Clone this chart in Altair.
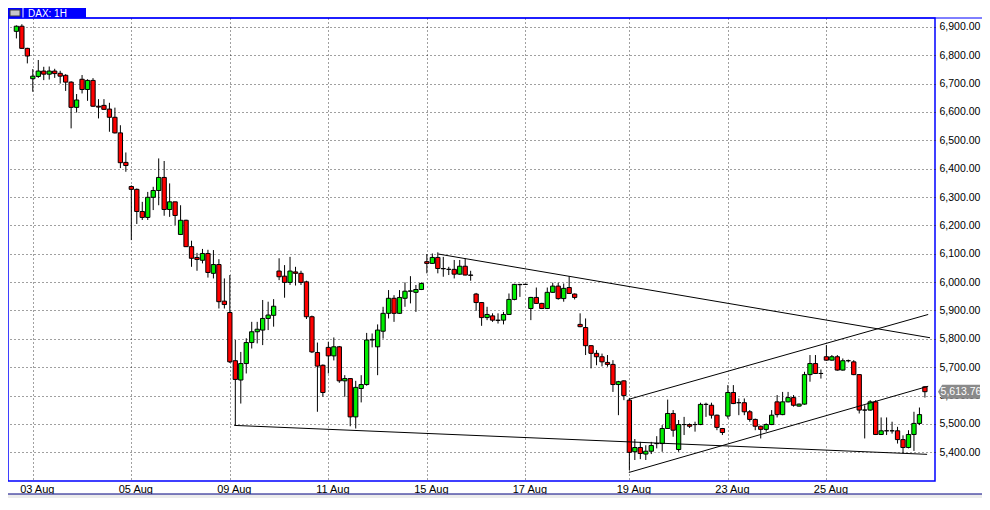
import altair as alt
import pandas as pd

# ---------------- data ----------------
open_ = [6884, 6902, 6824, 6717, 6725, 6744, 6733, 6744, 6736, 6729,
         6705, 6616, 6715, 6679, 6711, 6620, 6623, 6610, 6581, 6526,
         6422, 6337, 6327, 6249, 6228, 6299, 6323, 6369, 6256, 6283,
         6168, 6218, 6125, 6087, 6077, 6101, 6031, 6062, 5933, 5893,
         5723, 5655, 5713, 5787, 5825, 5831, 5872, 5883, 6039, 6021,
         5999, 6036, 6031, 6001, 5878, 5752, 5707, 5770, 5740, 5772,
         5652, 5660, 5525, 5625, 5639, 5796, 5772, 5827, 5890, 5943,
         5890, 5943, 5968, 5964, 5974, 6072, 6066, 6087, 6048, 6045,
         6045, 6028, 6056, 6025, 5958, 5928, 5875, 5881, 5866, 5866,
         5886, 5939, 5992, 5992, 5907, 5946, 5925, 5907, 5964, 5986,
         5942, 5981, 5958, 5851, 5840, 5776, 5749, 5737, 5717, 5710,
         5639, 5652, 5584, 5402, 5417, 5394, 5404, 5431, 5431, 5484,
         5537, 5410, 5498, 5498, 5498, 5498, 5569, 5566, 5531, 5484,
         5528, 5611, 5575, 5575, 5543, 5516, 5492, 5481, 5498, 5578,
         5533, 5578, 5593, 5563, 5570, 5674, 5713, 5678, 5737, 5725,
         5737, 5690, 5723, 5719, 5674, 5549, 5549, 5578, 5463, 5476,
         5476, 5476, 5445, 5417, 5463, 5502, 5631]

high = [6905, 6909, 6826, 6751, 6783, 6759, 6760, 6752, 6745, 6733,
        6708, 6663, 6730, 6715, 6719, 6645, 6645, 6632, 6615, 6553,
        6457, 6341, 6330, 6283, 6318, 6336, 6436, 6427, 6348, 6283,
        6271, 6220, 6146, 6103, 6117, 6114, 6113, 6081, 6013, 6025,
        5796, 5754, 5802, 5860, 5860, 5937, 5931, 5940, 6084, 6060,
        6089, 6054, 6040, 6005, 5882, 5787, 5710, 5790, 5805, 5775,
        5672, 5662, 5652, 5672, 5821, 5819, 5851, 5913, 5972, 5954,
        5972, 5999, 6021, 5990, 5999, 6099, 6101, 6105, 6089, 6054,
        6078, 6078, 6083, 6040, 5962, 5930, 5913, 5890, 5890, 5895,
        5960, 5994, 5994, 5994, 5948, 5981, 5927, 5981, 5998, 5998,
        5995, 6021, 5960, 5890, 5872, 5778, 5760, 5748, 5743, 5725,
        5652, 5654, 5592, 5447, 5437, 5425, 5437, 5457, 5496, 5586,
        5549, 5514, 5525, 5502, 5508, 5575, 5575, 5575, 5533, 5486,
        5637, 5637, 5590, 5590, 5549, 5519, 5494, 5502, 5549, 5602,
        5613, 5613, 5602, 5572, 5684, 5743, 5743, 5692, 5778, 5743,
        5743, 5731, 5727, 5725, 5676, 5566, 5584, 5584, 5523, 5523,
        5508, 5490, 5460, 5478, 5543, 5558, 5633]

low = [6859, 6822, 6771, 6671, 6720, 6712, 6714, 6720, 6700, 6674,
       6542, 6598, 6665, 6639, 6618, 6577, 6608, 6530, 6524, 6402,
       6389, 6148, 6205, 6219, 6219, 6254, 6271, 6234, 6230, 6201,
       6166, 6124, 6054, 6040, 6066, 6016, 6013, 5907, 5907, 5715,
       5495, 5572, 5678, 5766, 5784, 5778, 5831, 5843, 6007, 5945,
       5990, 5988, 5990, 5870, 5750, 5543, 5596, 5678, 5724, 5645,
       5596, 5492, 5484, 5576, 5635, 5770, 5672, 5801, 5872, 5860,
       5888, 5913, 5925, 5895, 5972, 6031, 6064, 6031, 6019, 6025,
       6013, 6026, 6024, 6005, 5899, 5846, 5866, 5860, 5854, 5851,
       5884, 5936, 5948, 5990, 5866, 5923, 5905, 5905, 5962, 5938,
       5931, 5958, 5939, 5841, 5743, 5696, 5707, 5703, 5702, 5613,
       5531, 5584, 5337, 5373, 5376, 5373, 5394, 5414, 5402, 5484,
       5455, 5402, 5461, 5486, 5473, 5496, 5525, 5519, 5478, 5461,
       5519, 5570, 5531, 5531, 5508, 5478, 5449, 5473, 5496, 5523,
       5531, 5576, 5561, 5561, 5568, 5649, 5676, 5660, 5723, 5723,
       5688, 5688, 5717, 5672, 5537, 5449, 5547, 5461, 5461, 5461,
       5466, 5431, 5396, 5414, 5405, 5496, 5593]

close = [6902, 6824, 6797, 6726, 6744, 6733, 6744, 6735, 6726, 6705,
         6616, 6642, 6679, 6711, 6620, 6617, 6609, 6581, 6526, 6421,
         6411, 6327, 6249, 6228, 6299, 6323, 6369, 6256, 6283, 6235,
         6218, 6125, 6084, 6080, 6101, 6034, 6062, 5931, 5921, 5719,
         5657, 5713, 5787, 5825, 5834, 5872, 5884, 5915, 6019, 5999,
         6039, 6031, 5999, 5878, 5754, 5704, 5611, 5740, 5772, 5652,
         5660, 5525, 5629, 5639, 5796, 5798, 5831, 5890, 5943, 5890,
         5946, 5968, 5969, 5974, 5995, 6066, 6087, 6048, 6047, 6045,
         6028, 6056, 6025, 6024, 5928, 5875, 5886, 5866, 5865, 5886,
         5939, 5992, 5991, 5992, 5946, 5925, 5907, 5964, 5986, 5942,
         5978, 5960, 5946, 5843, 5776, 5749, 5737, 5719, 5710, 5639,
         5649, 5600, 5400, 5417, 5396, 5404, 5424, 5431, 5484, 5537,
         5478, 5498, 5498, 5492, 5498, 5569, 5569, 5531, 5488, 5470,
         5611, 5572, 5575, 5543, 5516, 5492, 5481, 5498, 5531, 5533,
         5578, 5593, 5566, 5570, 5674, 5713, 5678, 5678, 5725, 5737,
         5690, 5723, 5723, 5674, 5549, 5549, 5578, 5463, 5476, 5476,
         5476, 5445, 5417, 5463, 5502, 5533, 5613.76]

tick_idx = [3, 21, 39, 57, 75, 93, 112, 130, 148]
tick_labels = ["03 Aug", "05 Aug", "09 Aug", "11 Aug", "15 Aug",
               "17 Aug", "19 Aug", "23 Aug", "25 Aug"]
price_ticks = list(range(5400, 7000, 100))

# trend lines (bar index, price)
line_id = ["res", "res", "sup", "sup", "chlo", "chlo", "chhi", "chhi"]
line_x = [77.1, 166.93, 39.8, 166.4, 111.9, 166.6, 111.9, 166.6]
line_y = [6099, 5804, 5495, 5393, 5329, 5633, 5587, 5886]

title_text = "DAX: 1H"

# ---------------- tables ----------------
df = pd.DataFrame({"i": list(range(len(close))), "open": open_, "high": high,
                   "low": low, "close": close})
df["dir"] = ["up" if c >= o else "down" for o, c in zip(open_, close)]
lines_df = pd.DataFrame({"id": line_id, "x": line_x, "y": line_y})
last_df = pd.DataFrame({"close": [close[-1]], "label": [f"{close[-1]:,.2f}"]})
hdr_df = pd.DataFrame({"t": [title_text]})

W, H = 927, 463
TP = 10
RP = 47
FONT = "Liberation Sans"

label_expr = " : ".join(f"datum.value == {v} ? '{l}'" for v, l in zip(tick_idx, tick_labels)) + " : ''"

x_scale = alt.Scale(domain=[-0.62, 166.93], nice=False, zero=False)
y_scale = alt.Scale(domain=[5299, 6931], nice=False, zero=False)

x_axis = alt.Axis(values=tick_idx, labelExpr=label_expr, grid=True, gridDash=[1, 3],
                  gridColor="#000", gridWidth=1, gridOpacity=0.75, ticks=False, domain=False,
                  labelFont=FONT, labelFontSize=11, labelColor="black",
                  labelPadding=2, labelOffset=4, title=None)
y_axis = alt.Axis(orient="right", values=price_ticks, format=",.2f", grid=True,
                  gridDash=[1, 3], gridColor="#000", gridWidth=1, gridOpacity=0.75,
                  ticks=False, domain=False, labelFont=FONT, labelFontSize=10.5,
                  labelColor="black", labelPadding=4, title=None)

base = alt.Chart(df)

wicks = base.mark_rule(color="black", strokeWidth=1).encode(
    x=alt.X("i:Q", scale=x_scale, axis=x_axis),
    y=alt.Y("low:Q", scale=y_scale, axis=y_axis),
    y2="high:Q",
)

bodies = base.mark_bar(size=4.3, stroke="black", strokeWidth=1).encode(
    x=alt.X("i:Q", scale=x_scale, axis=x_axis),
    y=alt.Y("open:Q", scale=y_scale, axis=y_axis),
    y2="close:Q",
    color=alt.Color("dir:N", scale=alt.Scale(domain=["up", "down"],
                                             range=["#00ee00", "#ff0000"]), legend=None),
)

trend = alt.Chart(lines_df).mark_line(color="black", strokeWidth=1).encode(
    x=alt.X("x:Q", scale=x_scale, axis=x_axis),
    y=alt.Y("y:Q", scale=y_scale, axis=y_axis),
    detail="id:N",
)

arrow_path = "M -1 0 L -0.8 -0.33 L 1 -0.33 L 1 0.33 L -0.8 0.33 Z"
price_box = alt.Chart(last_df).mark_point(shape=arrow_path, size=1764, filled=True,
                                          color="#8a8a8a", opacity=1).encode(
    x=alt.value(W + 24),
    y=alt.Y("close:Q", scale=y_scale, axis=y_axis),
)
price_txt = alt.Chart(last_df).mark_text(color="white", font=FONT, fontSize=10.5,
                                         align="center", baseline="middle", dx=2).encode(
    x=alt.value(W + 24),
    y=alt.Y("close:Q", scale=y_scale, axis=y_axis),
    text="label:N",
)

# header strip and bottom strip (frame decoration)
hdr_rect = alt.Chart(hdr_df).mark_rect(color="#0000ff").encode(
    x=alt.value(0), x2=alt.value(78), y=alt.value(-TP), y2=alt.value(0))
hdr_icon = alt.Chart(hdr_df).mark_rect(color="#c8c8c8", stroke="#404040", strokeWidth=1).encode(
    x=alt.value(2), x2=alt.value(12), y=alt.value(-TP + 2), y2=alt.value(-2))
hdr_sep = alt.Chart(hdr_df).mark_rule(color="white", strokeWidth=1).encode(
    x=alt.value(15), y=alt.value(-TP), y2=alt.value(0))
hdr_line = alt.Chart(hdr_df).mark_rule(color="#0000ff", strokeWidth=1).encode(
    x=alt.value(0), x2=alt.value(W + RP), y=alt.value(0))
hdr_txt = alt.Chart(hdr_df).mark_text(color="white", font=FONT, fontSize=10,
                                      align="left", baseline="middle").encode(
    x=alt.value(20), y=alt.value(-TP / 2 + 0.5), text="t:N")
bot_rect = alt.Chart(hdr_df).mark_rect(color="#ececec").encode(
    x=alt.value(0), x2=alt.value(W + RP), y=alt.value(H + 13), y2=alt.value(H + 17))
bot_line = alt.Chart(hdr_df).mark_rule(color="#000080", strokeWidth=1).encode(
    x=alt.value(0), x2=alt.value(W + RP), y=alt.value(H + 13))

chart = alt.layer(
    wicks, bodies, trend, price_box, price_txt,
    hdr_rect, hdr_icon, hdr_sep, hdr_line, hdr_txt, bot_rect, bot_line,
).properties(
    width=W, height=H,
    autosize=alt.AutoSizeParams(type="none"),
    padding={"left": 0, "top": TP, "right": RP, "bottom": 17},
    background="white",
).configure_view(
    stroke="#0000ff", strokeWidth=1.5,
)

chart.save("out.html", embed_options={"renderer": "svg", "actions": False})
